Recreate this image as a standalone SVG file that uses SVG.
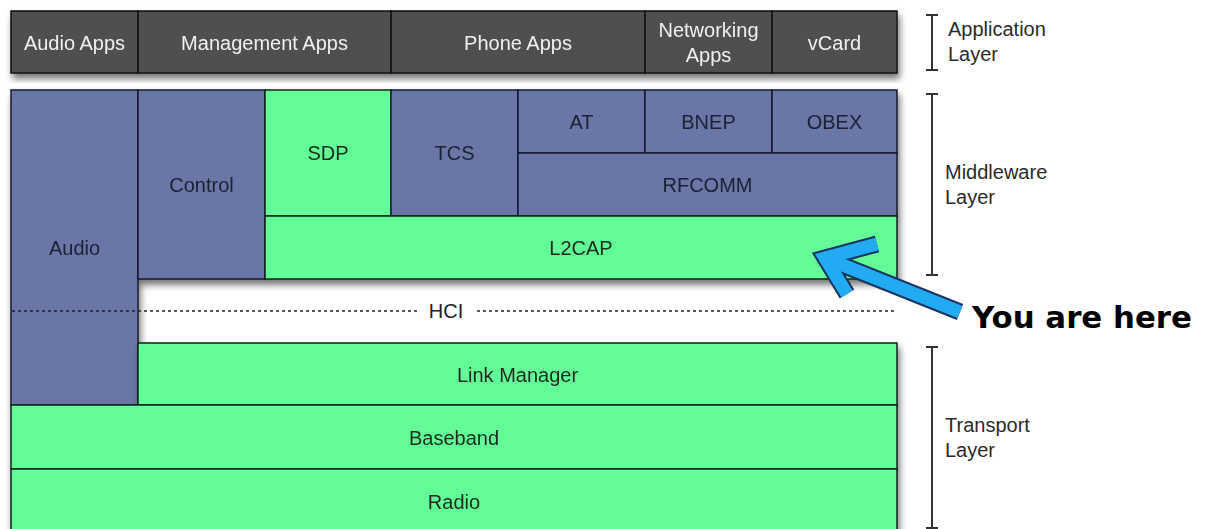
<svg xmlns="http://www.w3.org/2000/svg" width="1208" height="529" viewBox="0 0 1208 529">
<defs>
<filter id="sh" x="-5%" y="-10%" width="110%" height="125%">
<feDropShadow dx="2" dy="5" stdDeviation="3.5" flood-color="#000" flood-opacity="0.55"/>
</filter>
<style>
.app{fill:#4f4f4f;stroke:#111;stroke-width:1.5}
.pur{fill:#6b76a5;stroke:#141a33;stroke-width:1.5}
.grn{fill:#62fd97;stroke:#142018;stroke-width:1.5}
text{font-family:"Liberation Sans",Arial,sans-serif;font-size:20px;text-anchor:middle}
.at{fill:#f0f0f0}
.mt{fill:#1b2036}
.gt{fill:#1a2a1f}
.lbl{fill:#2a2a2a;text-anchor:start}
.br{stroke:#333;stroke-width:2;fill:none}
.dash{stroke:#222;stroke-width:1.5;stroke-dasharray:3 3}
</style>
</defs>
<rect width="1208" height="529" fill="#fff"/>

<g id="application-layer" filter="url(#sh)">
<g id="audio-apps"><rect class="app" x="11" y="11" width="127" height="62"/><text class="at" x="74.5" y="50">Audio Apps</text></g>
<g id="management-apps"><rect class="app" x="138" y="11" width="253" height="62"/><text class="at" x="264.5" y="50">Management Apps</text></g>
<g id="phone-apps"><rect class="app" x="391" y="11" width="254" height="62"/><text class="at" x="518" y="50">Phone Apps</text></g>
<g id="networking-apps"><rect class="app" x="645" y="11" width="127" height="62"/><text class="at" x="708.5" y="37">Networking</text><text class="at" x="708.5" y="62">Apps</text></g>
<g id="vcard"><rect class="app" x="772" y="11" width="125" height="62"/><text class="at" x="834.5" y="50">vCard</text></g>
</g>

<g id="stack" filter="url(#sh)">
<g id="audio"><rect class="pur" x="11" y="90" width="127" height="315"/><text class="mt" x="74.5" y="255">Audio</text></g>
<g id="control"><rect class="pur" x="138" y="90" width="127" height="189"/><text class="mt" x="201.5" y="192">Control</text></g>
<g id="sdp"><rect class="grn" x="265" y="90" width="126" height="126"/><text class="gt" x="328" y="160">SDP</text></g>
<g id="tcs"><rect class="pur" x="391" y="90" width="127" height="126"/><text class="mt" x="454.5" y="160">TCS</text></g>
<g id="at"><rect class="pur" x="518" y="90" width="127" height="63"/><text class="mt" x="581.5" y="129">AT</text></g>
<g id="bnep"><rect class="pur" x="645" y="90" width="127" height="63"/><text class="mt" x="708.5" y="129">BNEP</text></g>
<g id="obex"><rect class="pur" x="772" y="90" width="125" height="63"/><text class="mt" x="834.5" y="129">OBEX</text></g>
<g id="rfcomm"><rect class="pur" x="518" y="153" width="379" height="63"/><text class="mt" x="707.5" y="192">RFCOMM</text></g>
<g id="l2cap"><rect class="grn" x="265" y="216" width="632" height="63"/><text class="gt" x="581" y="255">L2CAP</text></g>
</g>

<g id="transport" filter="url(#sh)">
<g id="link-manager"><rect class="grn" x="138" y="343" width="759" height="62"/><text class="gt" x="517.5" y="382">Link Manager</text></g>
<g id="baseband"><rect class="grn" x="11" y="405" width="886" height="64"/><text class="gt" x="454" y="445">Baseband</text></g>
<g id="radio"><rect class="grn" x="11" y="469" width="886" height="64"/><text class="gt" x="454" y="509">Radio</text></g>
</g>

<g id="hci">
<line class="dash" x1="12" y1="311" x2="420" y2="311"/>
<line class="dash" x1="477" y1="311" x2="896" y2="311"/>
<text fill="#222" x="446" y="318">HCI</text>
</g>

<g id="layer-labels">
<path class="br" d="M926,15 H938 M932,15 V70 M926,70 H938"/>
<text class="lbl" x="948" y="36">Application</text><text class="lbl" x="948" y="61">Layer</text>
<path class="br" d="M926,94 H938 M932,94 V275 M926,275 H938"/>
<text class="lbl" x="945" y="179">Middleware</text><text class="lbl" x="945" y="204">Layer</text>
<path class="br" d="M926,347 H938 M932,347 V528 M926,528 H938"/>
<text class="lbl" x="945" y="432">Transport</text><text class="lbl" x="945" y="457">Layer</text>
</g>

<g id="connectors">
<path d="M877,244 L825,258 L847,294 M825,258 L960,312" fill="none" stroke="#17345e" stroke-width="17" stroke-linejoin="miter" stroke-linecap="butt"/>
<path d="M877,244 L825,258 L847,294 M825,258 L960,312" fill="none" stroke="#22aaf2" stroke-width="13" stroke-linejoin="miter" stroke-linecap="butt"/>
</g>
<text x="972" y="328" style="font-family:'DejaVu Sans',Verdana,sans-serif;font-weight:bold;font-size:31px;text-anchor:start;fill:#000" textLength="220" lengthAdjust="spacingAndGlyphs">You are here</text>
</svg>
